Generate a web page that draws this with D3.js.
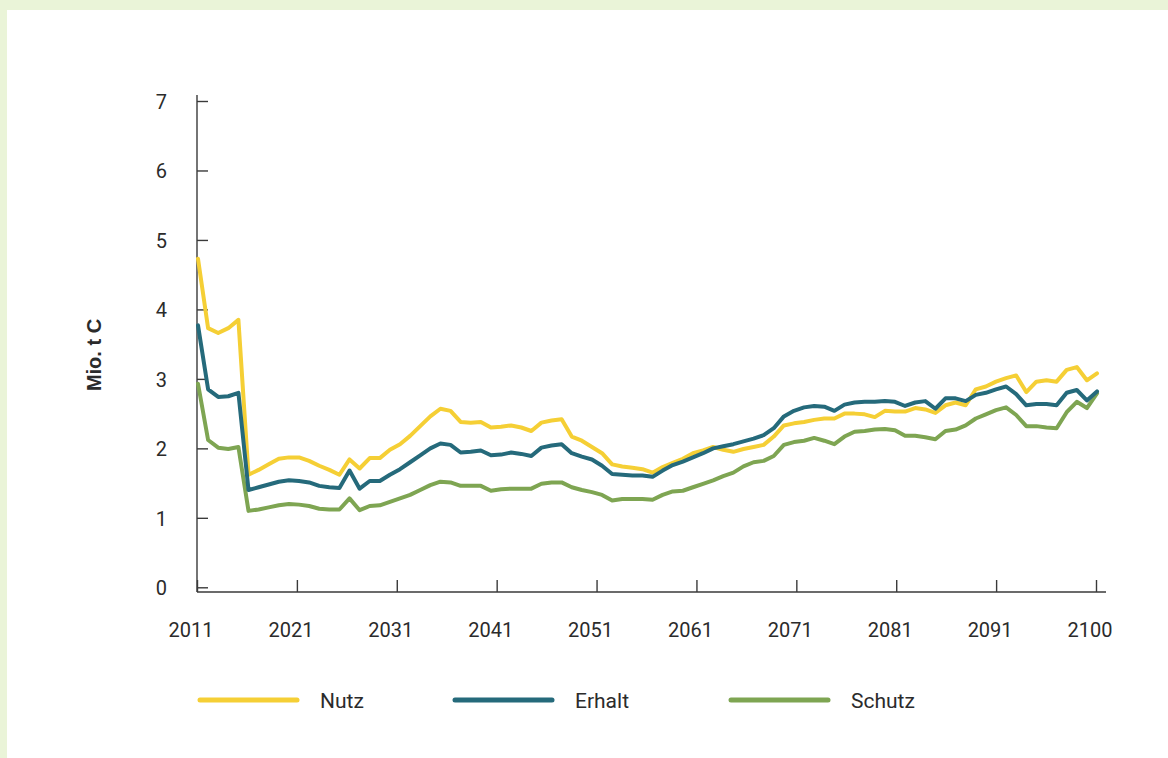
<!DOCTYPE html>
<html>
<head>
<meta charset="utf-8">
<script src="https://cdn.jsdelivr.net/npm/d3@7"></script>
<style>
  html, body { margin: 0; padding: 0; background: #eaf4d8; }
  svg { display: block; }
  text { font-family: Roboto, "Noto Sans", sans-serif; fill: #2b2b2b; }
</style>
</head>
<body>
<svg id="chart" width="1168" height="758"></svg>
<script>
// ---- data ----
const startYear = 2011;
const endYear = 2100;
const tickLabels = ["2011","2021","2031","2041","2051","2061","2071","2081","2091","2100"];
const yTicks = [0,1,2,3,4,5,6,7];
const seriesNames = ["Nutz","Erhalt","Schutz"];
const seriesColors = ["#f5cf35","#256a7b","#7ea552"];

const nutz = [4.73,3.73,3.66,3.73,3.85,1.62,1.69,1.77,1.85,1.87,
              1.87,1.82,1.75,1.69,1.62,1.84,1.71,1.86,1.86,1.98,
              2.06,2.18,2.32,2.46,2.57,2.54,2.38,2.37,2.38,2.30,
              2.31,2.33,2.30,2.25,2.37,2.40,2.42,2.17,2.11,2.02,
              1.93,1.77,1.74,1.72,1.70,1.65,1.73,1.79,1.85,1.93,
              1.97,2.02,1.98,1.95,1.99,2.02,2.05,2.17,2.33,2.36,
              2.38,2.41,2.43,2.43,2.50,2.50,2.49,2.45,2.54,2.53,
              2.53,2.58,2.56,2.51,2.62,2.66,2.62,2.85,2.89,2.96,
              3.01,3.05,2.81,2.96,2.98,2.96,3.13,3.17,2.98,3.08];
const erhalt = [3.77,2.85,2.74,2.75,2.80,1.40,1.44,1.48,1.52,1.54,
                1.53,1.51,1.46,1.44,1.43,1.68,1.42,1.53,1.53,1.62,
                1.70,1.80,1.90,2.00,2.07,2.05,1.94,1.95,1.97,1.90,
                1.91,1.94,1.92,1.89,2.01,2.04,2.06,1.93,1.88,1.84,
                1.75,1.63,1.62,1.61,1.61,1.59,1.68,1.76,1.81,1.87,
                1.93,2.00,2.03,2.06,2.10,2.14,2.19,2.29,2.46,2.54,
                2.59,2.61,2.60,2.54,2.63,2.66,2.67,2.67,2.68,2.67,
                2.61,2.66,2.68,2.57,2.72,2.72,2.68,2.77,2.80,2.85,
                2.89,2.78,2.62,2.64,2.64,2.62,2.80,2.84,2.69,2.82];
const schutz = [2.93,2.12,2.01,1.99,2.02,1.10,1.12,1.15,1.18,1.20,
                1.19,1.17,1.13,1.12,1.12,1.28,1.11,1.17,1.18,1.23,
                1.28,1.33,1.40,1.47,1.52,1.51,1.46,1.46,1.46,1.39,
                1.41,1.42,1.42,1.42,1.49,1.51,1.51,1.44,1.40,1.37,
                1.33,1.25,1.27,1.27,1.27,1.26,1.33,1.38,1.39,1.44,
                1.49,1.54,1.60,1.65,1.74,1.80,1.82,1.89,2.05,2.09,
                2.11,2.15,2.11,2.06,2.17,2.24,2.25,2.27,2.28,2.26,
                2.18,2.18,2.16,2.13,2.25,2.27,2.33,2.43,2.49,2.55,
                2.59,2.48,2.32,2.32,2.30,2.29,2.52,2.67,2.58,2.79];
const seriesValues = [nutz, erhalt, schutz];

// ---- layout ----
const svg = d3.select("#chart");
svg.append("rect").attr("x", 7).attr("y", 10).attr("width", 1161).attr("height", 748).attr("fill", "#ffffff");

const axisX0 = 197, axisX1 = 1096, axisEnd = 1106;
const axisY = 592;
const x = d3.scaleLinear().domain([startYear, endYear]).range([198, 1097]);
const xTick = d3.scalePoint().domain(tickLabels).range([axisX0, axisX1]);
const y = d3.scaleLinear().domain([0, 7]).range([587.3, 101]);

const axisColor = "#3a3a3a";

// y axis
const gy = svg.append("g").attr("transform", `translate(${axisX0},0)`)
  .call(d3.axisLeft(y).tickValues(yTicks).tickFormat(d3.format("d")).tickSize(-11).tickPadding(30));
gy.select(".domain").remove();
gy.selectAll(".tick line").attr("stroke", axisColor).attr("stroke-width", 1.4);
gy.selectAll(".tick text").style("font-size", "20px").attr("fill", "#2b2b2b").attr("dy", "0.36em");
svg.append("line").attr("x1", axisX0).attr("x2", axisX0).attr("y1", y(7) - 6).attr("y2", axisY)
  .attr("stroke", axisColor).attr("stroke-width", 1.4);

// x axis
const gx = svg.append("g").attr("transform", `translate(0,${axisY})`)
  .call(d3.axisBottom(xTick).tickSize(-12).tickPadding(31));
gx.select(".domain").remove();
gx.selectAll(".tick line").attr("stroke", axisColor).attr("stroke-width", 1.4);
gx.selectAll(".tick text").style("font-size", "20px").attr("fill", "#2b2b2b").attr("dx", -6.5);
svg.append("line").attr("x1", axisX0).attr("x2", axisEnd).attr("y1", axisY).attr("y2", axisY)
  .attr("stroke", axisColor).attr("stroke-width", 1.4);

// y title
svg.append("text")
  .attr("transform", `translate(101,355) rotate(-90)`)
  .attr("text-anchor", "middle")
  .style("font-family", "'Liberation Sans', Arial, sans-serif")
  .style("font-weight", "bold")
  .style("font-size", "20px")
  .text("Mio. t C");

// lines
const years = d3.range(startYear, endYear + 1);
const line = d3.line().x((d, i) => x(years[i])).y(d => y(d));
const drawOrder = [0, 2, 1];
drawOrder.forEach(k => {
  svg.append("path").datum(seriesValues[k])
    .attr("d", line)
    .attr("fill", "none")
    .attr("stroke", seriesColors[k])
    .attr("stroke-width", 4)
    .attr("stroke-linejoin", "round")
    .attr("stroke-linecap", "round");
});

// legend
const legendX = [200, 455, 731];
const legendY = 700;
seriesNames.forEach((name, k) => {
  svg.append("line")
    .attr("x1", legendX[k]).attr("x2", legendX[k] + 97)
    .attr("y1", legendY).attr("y2", legendY)
    .attr("stroke", seriesColors[k]).attr("stroke-width", 5).attr("stroke-linecap", "round");
  svg.append("text")
    .attr("x", legendX[k] + 120).attr("y", legendY + 7.5)
    .style("font-size", "21px")
    .text(name);
});
</script>
</body>
</html>
